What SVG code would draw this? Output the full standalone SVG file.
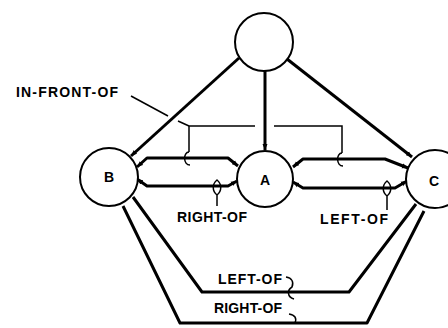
<svg xmlns="http://www.w3.org/2000/svg" width="448" height="328" viewBox="0 0 448 328">
<style>
.node{fill:#fff;stroke:#000;stroke-width:2}
.lbl{font-family:"Liberation Sans",Arial,sans-serif;font-weight:bold;font-size:14px;fill:#000}
.thick{fill:none;stroke:#000;stroke-width:3;stroke-linejoin:round}
.thin{fill:none;stroke:#000;stroke-width:1.5}
</style>
<defs>
<marker id="tip" viewBox="0 -3 6 6" refX="6" refY="0" markerWidth="6" markerHeight="6" markerUnits="userSpaceOnUse" orient="auto-start-reverse">
<path d="M0,-2.5 L6,0 L0,2.5 z" fill="#000"/>
</marker>
</defs>
<g id="connectors">
<line class="thick" x1="239" y1="58" x2="131" y2="156" marker-end="url(#tip)"/>
<line class="thick" x1="265" y1="71" x2="265" y2="150" marker-end="url(#tip)"/>
<line class="thick" x1="287" y1="59" x2="412" y2="157" marker-end="url(#tip)"/>
<polyline class="thick" points="137,167 147,158 228,158 238,166" marker-start="url(#tip)" marker-end="url(#tip)"/>
<polyline class="thick" points="137,179 147,186 228,186 237,181" marker-start="url(#tip)" marker-end="url(#tip)"/>
<polyline class="thick" points="293,167 303,159 385,159 408,168" marker-start="url(#tip)" marker-end="url(#tip)"/>
<polyline class="thick" points="293,182 303,188 395,188 407,181" marker-start="url(#tip)" marker-end="url(#tip)"/>
<polyline class="thick" points="133,197 202,292 349,292 416,204"/>
<polyline class="thick" points="123,206 180,323 367,323 424,211"/>
<line class="thin" x1="131" y1="96" x2="168" y2="116"/>
<line class="thin" x1="178" y1="121" x2="189" y2="126"/>
<polyline class="thin" points="189,152 189,126 255,126"/>
<polyline class="thin" points="274,126 342,126 342,153"/>
<path class="thin" d="M189,152 C183,152 183,165 190,165"/>
<path class="thin" d="M342,153 C336,153 336,166 343,166"/>
<path class="thin" d="M217,180 C212,184 212,191 217,195 C222,191 222,184 217,180 Z M217,195 L217,206"/>
<path class="thin" d="M387,181 C382,185 382,192 387,196 C392,192 392,185 387,181 Z M387,196 L387,210"/>
<path class="thin" d="M286,277 C292,278 294,282 292,287 C287,290 287,297 294,299"/>
<path class="thin" d="M289,314 C295,315 297,318 295,323"/>
</g>
<g id="top"><circle class="node" cx="264" cy="42" r="29"/></g>
<g id="B"><circle class="node" cx="109" cy="177" r="29"/><text class="lbl" x="109" y="182" text-anchor="middle">B</text></g>
<g id="A"><circle class="node" cx="265" cy="179" r="28"/><text class="lbl" x="265" y="185" text-anchor="middle">A</text></g>
<g id="C"><circle class="node" cx="435" cy="179" r="29"/><text class="lbl" x="434" y="186" text-anchor="middle">C</text></g>
<g id="labels">
<text class="lbl" x="16" y="97" textLength="102" lengthAdjust="spacing">IN-FRONT-OF</text>
<text class="lbl" x="177" y="222" textLength="70" lengthAdjust="spacing">RIGHT-OF</text>
<text class="lbl" x="320" y="224" textLength="68" lengthAdjust="spacing">LEFT-OF</text>
<text class="lbl" x="218" y="284" textLength="64" lengthAdjust="spacing">LEFT-OF</text>
<text class="lbl" x="214" y="313" textLength="68" lengthAdjust="spacing">RIGHT-OF</text>
</g>
</svg>
